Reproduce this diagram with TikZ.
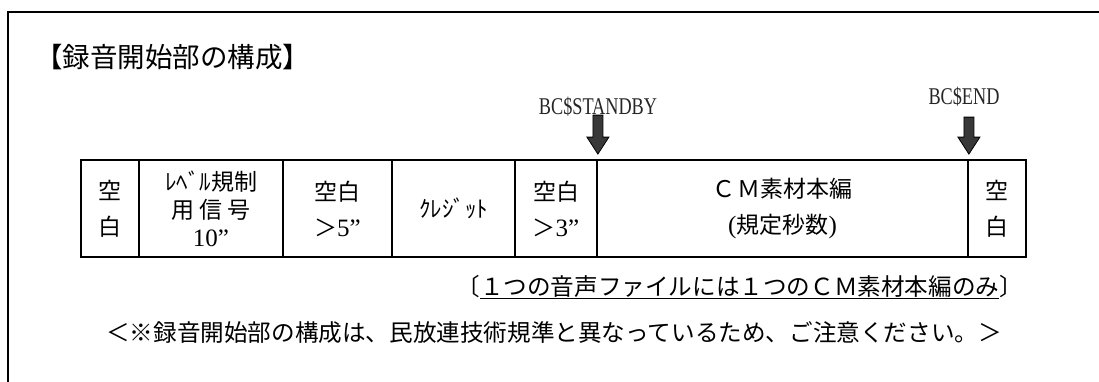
\documentclass[tikz,border=0pt]{standalone}
\usepackage{graphicx}
\usepackage{fontspec}
\setmainfont{Liberation Serif}
\newfontfamily\jp{Noto Sans CJK JP}
\newfontfamily\lat{Liberation Serif}
\begin{document}
\begin{tikzpicture}[x=1pt,y=-1pt,
  frame/.style={line width=2pt},
  cell/.style={draw, line width=1.8pt, inner sep=0pt, minimum height=97pt, align=center,
     font=\jp\fontsize{23}{36}\selectfont},
  lbl/.style={inner sep=0pt, font=\lat\fontsize{24}{24}\selectfont, text=black!85},
  blockarrow/.style={draw=black, line width=0.8pt, fill=black!78, line join=miter},
  note/.style={inner sep=0pt, font=\jp\fontsize{23.6}{24}\selectfont}]
\useasboundingbox (0,0) rectangle (1099,381);
% outer frame
\draw[frame] (8,383) -- (8,12) -- (1101,12);
% title
\node[anchor=west, inner sep=0pt, font=\jp\fontsize{27.5}{28}\selectfont] (title) at (35,57) {【録音開始部の構成】};
% table cells
\node[cell, minimum width=58pt] (c1) at (110,208.5) {空\\白};
\node[cell, minimum width=144pt, font=\jp\fontsize{23}{28}\selectfont] (c2) at (211,208.5) {ﾚﾍﾞﾙ規制\\用\hspace{5pt}信\hspace{5pt}号\\{\lat\fontsize{25}{28}\selectfont 10”}};
\node[cell, minimum width=109pt] (c3) at (337.5,208.5) {空白\\＞{\lat\fontsize{25}{36}\selectfont 5”}};
\node[cell, minimum width=123pt] (c4) at (453.5,208.5) {ｸﾚｼﾞｯﾄ};
\node[cell, minimum width=82pt] (c5) at (556,208.5) {空白\\＞{\lat\fontsize{25}{36}\selectfont 3”}};
\node[cell, minimum width=371pt] (c6) at (782.5,208.5) {Ｃ\hspace{2pt}Ｍ素材本編\\{\lat\fontsize{25}{36}\selectfont (}規定秒数{\lat\fontsize{25}{36}\selectfont )}};
\node[cell, minimum width=58pt] (c7) at (997,208.5) {空\\白};
% labels
\node[lbl] (sb) at (598,107) {\scalebox{0.76}[1]{BC\$STANDBY}};
\node[lbl] (en) at (964,97) {\scalebox{0.76}[1]{BC\$END}};
% arrows
\coordinate (sbtip) at ([yshift=5pt]c5.north east);
\coordinate (entip) at ([yshift=5pt]c6.north east);
\draw[blockarrow] (sbtip) -- ++(-11,-17) -- ++(6,0) -- ++(0,-22) -- ++(10,0) -- ++(0,22) -- ++(6,0) -- cycle;
\draw[blockarrow] (entip) -- ++(-11,-17) -- ++(6,0) -- ++(0,-20) -- ++(10,0) -- ++(0,20) -- ++(6,0) -- cycle;
% notes
\node[note, anchor=east] (one) at (1023,287) {〔\underline{１つの音声ファイルには１つのＣＭ素材本編のみ}〕};
\node[note, anchor=west] (warn) at (106,333) {＜※録音開始部の構成は、民放連技術規準と異なっているため、ご注意ください。＞};
\end{tikzpicture}
\end{document}
